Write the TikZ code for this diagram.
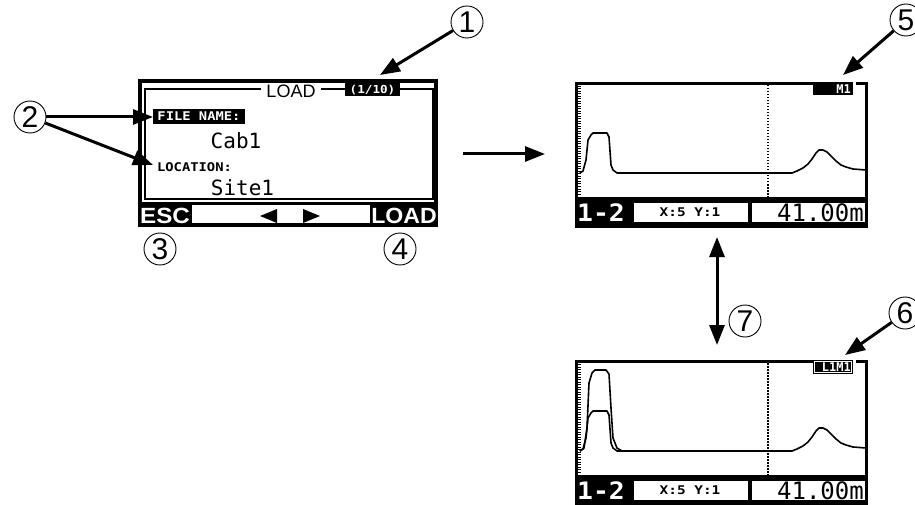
\documentclass[tikz,border=0pt]{standalone}
\usepackage{fontspec}
\setmainfont{Liberation Sans}
\newfontfamily\lcdmono{DejaVu Sans Mono}
\usetikzlibrary{arrows.meta}
\tikzset{
  arr/.style={line width=3pt,-{Triangle[length=20pt,width=15pt]}},
  darr/.style={line width=3pt,{Triangle[length=20pt,width=15pt]}-{Triangle[length=20pt,width=15pt]}},
  num/.style={circle,draw,line width=0.9pt,minimum size=32pt,inner sep=0pt,font=\fontsize{30}{30}\selectfont},
  lcdtxt/.style={inner sep=0pt,font=\lcdmono\fontsize{21}{21}\selectfont},
  lcdsmall/.style={inner sep=0pt,font=\lcdmono\bfseries\fontsize{12}{12}\selectfont},
  lcdbig/.style={inner sep=0pt,font=\lcdmono\fontsize{24}{24}\selectfont},
  keytxt/.style={inner sep=0pt,text=white,font=\bfseries\fontsize{22}{22}\selectfont},
  frame/.style={line width=3pt},
  trace/.style={line width=1.6pt,line join=round},
}
\newcommand\plotscreen[4]{%
  \begin{scope}[shift={(0,#1)}]
    \fill (575,197) rectangle (868,228);
    \draw[frame] (813,83.5) -- (576.5,83.5) -- (576.5,198);
    \draw[frame] (856,83.5) -- (866.5,83.5) -- (866.5,198);
    \draw[line width=2.2pt,dash pattern=on 1pt off 1.5pt] (579.5,86) -- (579.5,196);
    \draw[line width=1.2pt,dash pattern=on 1.5pt off 1.5pt] (768,85) -- (768,197);
    \fill (813,82) rectangle (853,95.5);
    \fill[white] (634,203) rectangle (748,222);
    \fill[white] (752,203) rectangle (865,222);
    \draw[trace] (580,173) -- (583,171) -- (586,160) -- (588,140) -- (591,135) -- (593,133)
      -- (607,133) -- (609,137) -- (611,165) -- (613,170) -- (617,173) -- (792,173)
      -- (797,171) -- (803,168) -- (808,164) -- (812,159) -- (816,153) -- (819,150)
      -- (823,150) -- (827,152) -- (831,156) -- (836,161) -- (841,165) -- (846,167)
      -- (853,169) -- (866,170);
    #4
    \node[lcdbig,text=white,font=\lcdmono\bfseries\fontsize{24}{24}\selectfont,xscale=1.1] (#2ch) at (601,212.5) {1-2};
    \node[lcdsmall,xscale=1.2] (#2xy) at (690,212.5) {X:5 Y:1};
    \node[lcdbig,anchor=east] (#2d) at (864,212.5) {41.00m};
    \node[lcdsmall,text=white,anchor=east] (#2tag) at (851,89) {#3};
  \end{scope}}
\begin{document}
\begin{tikzpicture}[x=1pt,y=-1pt]
\useasboundingbox (0,0) rectangle (915,505);
% ---------- left LOAD screen ----------
\draw[line width=3.5pt] (140,81) rectangle (436,225);
\draw[line width=3pt] (140,203.5) -- (436,203.5);
\draw[line width=1.5pt] (261,89) -- (145,89) -- (145,199) -- (433,199) -- (433,89) -- (400,89);
\draw[line width=1.5pt] (321,89) -- (345,89);
\fill (345,83.5) rectangle (400,96);
\node[lcdsmall,text=white,font=\lcdmono\bfseries\fontsize{11}{11}\selectfont,xscale=1.15] (pg) at (372.5,90) {(1/10)};
\node[inner sep=0pt,font=\fontsize{18}{18}\selectfont] (ttl) at (291,91) {LOAD};
\fill (153,109) rectangle (245,124);
\node[lcdsmall,text=white,xscale=1.15] (fn) at (199,116.5) {FILE NAME:};
\node[lcdsmall,xscale=1.15] (loc) at (194.5,167) {LOCATION:};
\node[lcdtxt] (cab) at (236,141) {Cab1};
\node[lcdtxt] (site) at (242.5,188) {Site1};
\fill (138,205) rectangle (192,227);
\node[keytxt,xscale=1.1] (esc) at (165,216) {ESC};
\fill (370,205) rectangle (438,227);
\node[keytxt,xscale=1.05] (ldk) at (404,216) {LOAD};
\fill (260,216) -- (277,209) -- (277,223) -- cycle;
\fill (320,216) -- (303,209) -- (303,223) -- cycle;
% ---------- right screens ----------
\plotscreen{0}{u}{M1}{}
\plotscreen{278}{l}{L1M1}{%
  \draw[trace] (580,173) -- (584,170) -- (587,150) -- (589,105) -- (592,95) -- (595,92)
    -- (606,92) -- (609,96) -- (611,130) -- (613,160) -- (617,170) -- (622,173);
  \draw[white,line width=0.6pt] (814.5,83.5) rectangle (851.5,94);}
% ---------- callouts ----------
\node[num] (n1) at (467,22) {1};
\node[num] (n2) at (30,117) {2};
\node[num] (n3) at (160,249) {3};
\node[num] (n4) at (400,249) {4};
\node[num] (n5) at (906,20) {5};
\node[num] (n6) at (905,313) {6};
\node[num] (n7) at (745,321) {7};
\coordinate (t1) at (380,75);
\coordinate (t2a) at (153,117);
\coordinate (t2b) at (153,165);
\coordinate (t5) at (843,75);
\coordinate (t6) at (845,355);
\coordinate (m1) at (463,154);
\coordinate (m2) at (545,154);
\coordinate (v1) at (717,237);
\coordinate (v2) at (717,345);
\draw[arr] (n1) -- (t1);
\draw[arr] (n2) -- (t2a);
\draw[arr] (n2) -- (t2b);
\draw[arr] (n5) -- (t5);
\draw[arr] (n6) -- (t6);
\draw[arr] (m1) -- (m2);
\draw[darr] (v1) -- (v2);
\end{tikzpicture}
\end{document}
